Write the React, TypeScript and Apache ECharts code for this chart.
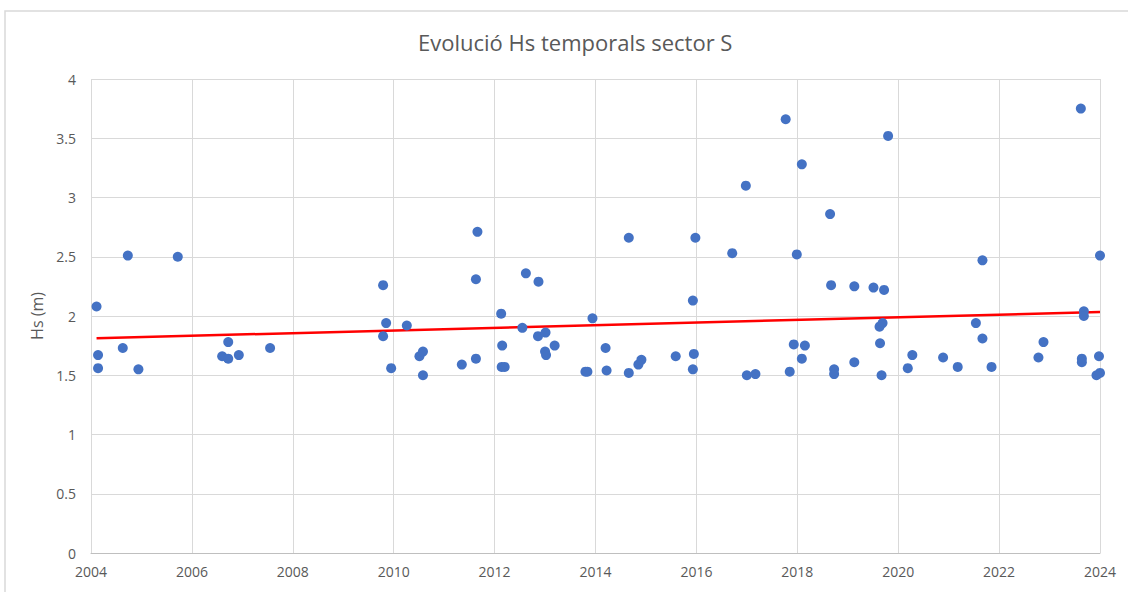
import React, { useEffect, useRef } from "react";
import * as echarts from "echarts";

const titleText = "Evolució Hs temporals sector S";
const yAxisName = "Hs (m)";

// fractional year of each storm event
const years: number[] = [
  2004.11, 2004.14, 2004.14, 2004.63, 2004.73, 2004.94, 2005.72, 2006.6, 2006.72, 2006.72,
  2006.93, 2007.55, 2009.79, 2009.85, 2009.79, 2009.95, 2010.26, 2010.51, 2010.58, 2010.58,
  2011.35, 2011.63, 2011.63, 2011.66, 2012.13, 2012.15, 2012.14, 2012.2, 2012.55, 2012.62,
  2012.87, 2012.86, 2013.01, 2013.19, 2013.0, 2013.02, 2013.8, 2013.84, 2013.94, 2014.2,
  2014.22, 2014.66, 2014.66, 2014.85, 2014.91, 2015.59, 2015.98, 2015.93, 2015.95, 2015.93,
  2016.71, 2016.98, 2017.0, 2017.17, 2017.77, 2017.85, 2017.93, 2017.99, 2018.09, 2018.15,
  2018.09, 2018.65, 2018.67, 2018.73, 2018.73, 2019.13, 2019.13, 2019.51, 2019.72, 2019.8,
  2019.63, 2019.69, 2019.64, 2019.67, 2020.19, 2020.28, 2020.89, 2021.18, 2021.54, 2021.67,
  2021.67, 2021.85, 2022.78, 2022.88, 2023.62, 2023.68, 2023.68, 2023.64, 2023.64, 2024.0,
  2023.98, 2023.93, 2024.0,
];

// significant wave height (m)
const hs: number[] = [
  2.08, 1.67, 1.56, 1.73, 2.51, 1.55, 2.5, 1.66, 1.64, 1.78,
  1.67, 1.73, 2.26, 1.94, 1.83, 1.56, 1.92, 1.66, 1.7, 1.5,
  1.59, 1.64, 2.31, 2.71, 2.02, 1.75, 1.57, 1.57, 1.9, 2.36,
  2.29, 1.83, 1.86, 1.75, 1.7, 1.67, 1.53, 1.53, 1.98, 1.73,
  1.54, 2.66, 1.52, 1.59, 1.63, 1.66, 2.66, 2.13, 1.68, 1.55,
  2.53, 3.1, 1.5, 1.51, 3.66, 1.53, 1.76, 2.52, 3.28, 1.75,
  1.64, 2.86, 2.26, 1.55, 1.51, 2.25, 1.61, 2.24, 2.22, 3.52,
  1.91, 1.94, 1.77, 1.5, 1.56, 1.67, 1.65, 1.57, 1.94, 2.47,
  1.81, 1.57, 1.65, 1.78, 3.75, 2.04, 2.0, 1.64, 1.61, 2.51,
  1.66, 1.5, 1.52,
];

const xTicks = { min: 2004, max: 2024, interval: 2 };
const yTicks = { min: 0, max: 4, interval: 0.5 };

function linearFit(xs: number[], ys: number[]) {
  const n = xs.length;
  const mx = xs.reduce((a, b) => a + b, 0) / n;
  const my = ys.reduce((a, b) => a + b, 0) / n;
  let sxy = 0;
  let sxx = 0;
  for (let i = 0; i < n; i++) {
    sxy += (xs[i] - mx) * (ys[i] - my);
    sxx += (xs[i] - mx) * (xs[i] - mx);
  }
  const slope = sxy / sxx;
  return { slope, intercept: my - slope * mx };
}

export default function App() {
  const ref = useRef<HTMLDivElement>(null);

  useEffect(() => {
    if (!ref.current) return;
    const chart = echarts.init(ref.current, undefined, { renderer: "svg" });
    const fit = linearFit(years, hs);
    const x0 = Math.min(...years);
    const x1 = Math.max(...years);
    const trend = [
      [x0, fit.intercept + fit.slope * x0],
      [x1, fit.intercept + fit.slope * x1],
    ];
    const font = "'Open Sans', 'Noto Sans', sans-serif";
    chart.setOption({
      animation: false,
      backgroundColor: "#ffffff",
      textStyle: { fontFamily: font },
      title: {
        text: titleText,
        left: 413,
        top: 26,
        textStyle: { fontFamily: font, fontSize: 22, fontWeight: "normal", color: "#595959" },
      },
      graphic: [
        {
          type: "rect",
          shape: { x: 5, y: 11, width: 1140, height: 600 },
          style: { fill: "none", stroke: "#d9d9d9", lineWidth: 1.5 },
          silent: true,
        },
      ],
      grid: { left: 91, right: 28, top: 79, bottom: 39, containLabel: false },
      xAxis: {
        type: "value",
        min: xTicks.min,
        max: xTicks.max,
        interval: xTicks.interval,
        axisLine: { show: true, lineStyle: { color: "#bfbfbf", width: 1 } },
        axisTick: { show: false },
        axisLabel: {
          color: "#595959",
          fontSize: 14,
          fontFamily: font,
          margin: 11,
          formatter: (v: number) => String(Math.round(v)),
        },
        splitLine: { show: true, lineStyle: { color: "#d9d9d9", width: 1 } },
      },
      yAxis: {
        type: "value",
        min: yTicks.min,
        max: yTicks.max,
        interval: yTicks.interval,
        name: yAxisName,
        nameLocation: "middle",
        nameGap: 43,
        nameRotate: 90,
        nameTextStyle: { color: "#595959", fontSize: 16, fontFamily: font },
        axisLine: { show: false },
        axisTick: { show: false },
        axisLabel: { color: "#595959", fontSize: 14, fontFamily: font, margin: 15 },
        splitLine: { show: true, lineStyle: { color: "#d9d9d9", width: 1 } },
      },
      series: [
        {
          type: "line",
          data: trend,
          symbol: "none",
          lineStyle: { color: "#ff0000", width: 2.5 },
          z: 3,
          silent: true,
        },
        {
          type: "scatter",
          data: years.map((y, i) => [y, hs[i]]),
          symbolSize: 10,
          itemStyle: { color: "#4472c4", opacity: 1 },
          clip: false,
          z: 4,
        },
      ],
    });
    return () => chart.dispose();
  }, []);

  return (
    <div
      ref={ref}
      style={{ position: "fixed", left: 0, top: 0, width: 1128, height: 592, background: "#fff" }}
    />
  );
}
